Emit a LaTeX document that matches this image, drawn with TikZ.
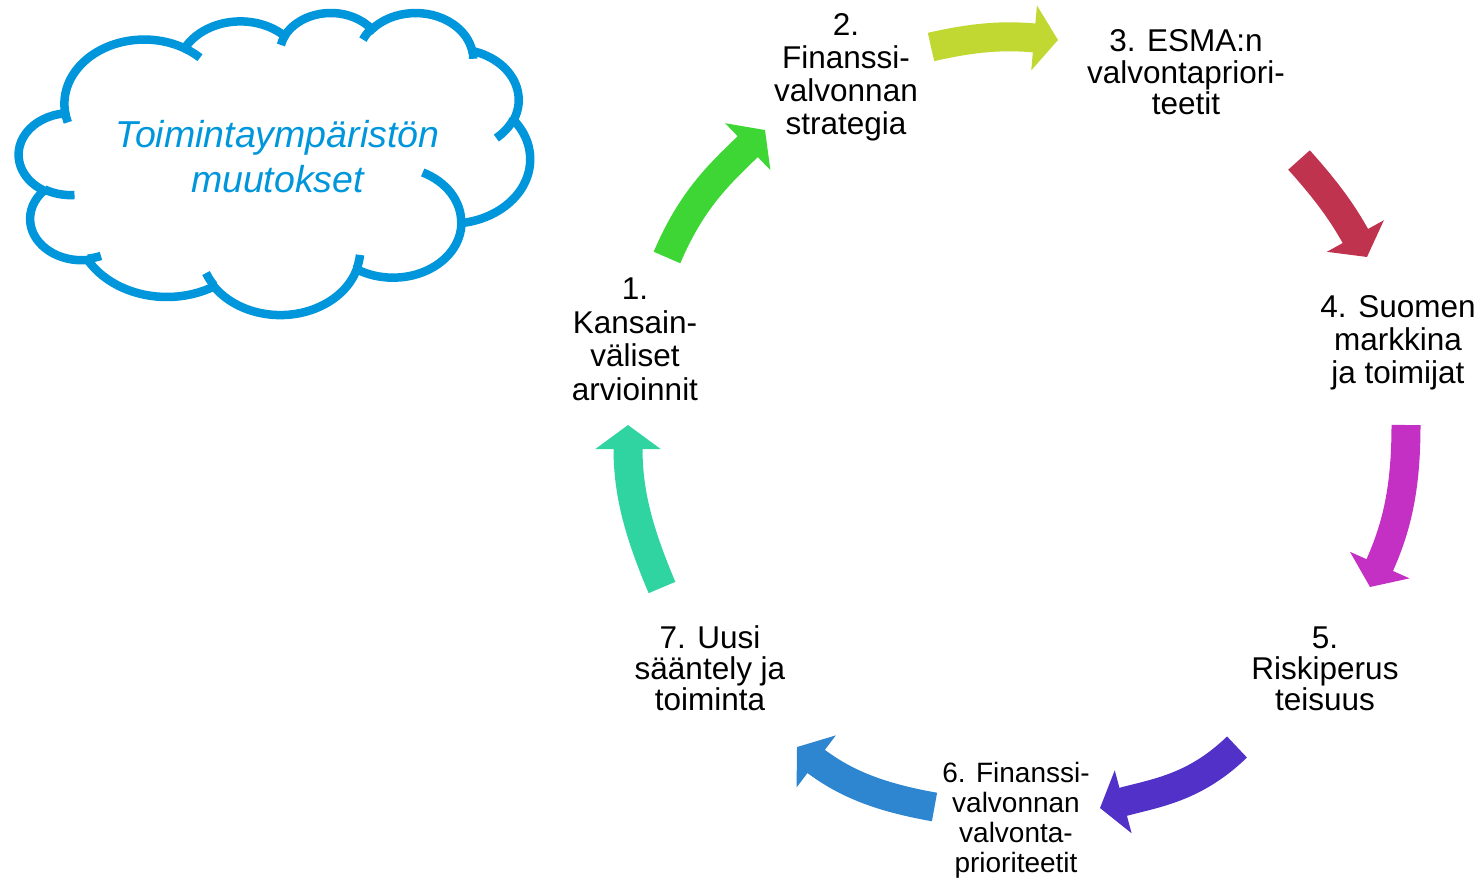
\documentclass[tikz,border=0pt]{standalone}
\usepackage{fontspec}
\setmainfont{Liberation Sans}
\usetikzlibrary{arrows.meta}
\definecolor{colA}{RGB}{61,214,52}
\definecolor{colB}{RGB}{194,216,50}
\definecolor{colC}{RGB}{192,51,79}
\definecolor{colD}{RGB}{196,47,196}
\definecolor{colE}{RGB}{82,49,200}
\definecolor{colF}{RGB}{46,134,209}
\definecolor{colG}{RGB}{48,212,160}
\definecolor{cloudblue}{RGB}{0,150,219}
% arc in DrawingML manner: wR, hR, start angle (visual), sweep
\newcommand\cloudarc[4]{ arc[x radius=#1, y radius=#2,
  start angle={atan2(sin(#3)*#1,cos(#3)*#2)},
  delta angle={mod(atan2(sin(#3+#4)*#1,cos(#3+#4)*#2)-atan2(sin(#3)*#1,cos(#3)*#2)+720,360)}]}
\begin{document}
\begin{tikzpicture}[x=1pt,y=1pt,
  lbl/.style={align=center, anchor=base, inner sep=0pt, font=\fontsize{31.5}{33.3}\selectfont},
  cyc/.style={line width=29pt, -{Triangle[length=24pt,width=64pt]}},
  cloudline/.style={draw=cloudblue, line width=8.5pt}]
\useasboundingbox (0,0) rectangle (1481,-880);
% cloud
\begin{scope}[shift={(19,-12)}, x=0.118287pt, y=-0.0699074pt]
\path[cloudline, fill=white] (390,1437.0)
  \cloudarc{675.3}{919.0}{-190.48748}{123.78053}
  \cloudarc{533.3}{726.7}{-144.10238}{89.94523}
  \cloudarc{436.5}{594.5}{-145.80792}{99.72302}
  \cloudarc{485.7}{659.5}{-130.98607}{117.24173}
  \cloudarc{533.3}{727.3}{-78.70888}{109.02692}
  \cloudarc{677.5}{922.0}{-46.26725}{130.26900}
  \cloudarc{578.5}{786.7}{0.62502}{114.03333}
  \cloudarc{675.2}{921.5}{22.45160}{115.17255}
  \cloudarc{772.0}{1054.3}{66.24263}{75.71102}
  \cloudarc{436.0}{591.8}{-274.94208}{146.73557}
  \cloudarc{434.5}{594.5}{-246.82850}{152.51885}
  -- cycle;
\path[cloudline]
  (469.3,2617.7) \cloudarc{434.5}{594.5}{86.74200}{26.42950}
  (692.8,3489.9) \cloudarc{436.0}{591.8}{73.61047}{11.44747}
  (1647.8,3909.0) \cloudarc{675.2}{921.5}{137.62415}{14.08110}
  (2882.7,3475.1) \cloudarc{675.2}{921.5}{6.45327}{15.99835}
  (3412.9,2295.4) \cloudarc{578.5}{786.7}{-70.29235}{70.91737}
  (4179.8,1535.4) \cloudarc{533.3}{727.3}{30.31803}{27.75150}
  (3832.4,542.6) \cloudarc{485.7}{659.5}{-13.74433}{14.85487}
  (2907.8,395.2) \cloudarc{485.7}{659.5}{-149.18145}{18.19537}
  (2214.1,472.0) \cloudarc{436.5}{594.5}{-163.49427}{17.68635}
  (1400.0,519.2) \cloudarc{675.3}{919.0}{-66.70695}{12.31935}
  (412.7,1578.9) \cloudarc{675.3}{919.0}{157.65435}{11.85817};
\end{scope}
\node[anchor=base, align=center, inner sep=0pt, text=cloudblue,
  font=\itshape\fontsize{37.5}{45}\selectfont] (cl) at (277.5,-193)
  {Toimintaympäristön\\muutokset};
% labels (anchor base = baseline of last line)
\node[lbl, font=\fontsize{31.5}{33.5}\selectfont] (n1) at (635,-400) {1.\\Kansain-\\väliset\\arvioinnit};
\node[lbl] (n2) at (846,-135) {2.\\Finanssi-\\valvonnan\\strategia};
\node[lbl, font=\fontsize{31.5}{31.5}\selectfont] (n3) at (1186,-115) {3. ESMA:n\\valvontapriori-\\teetit};
\node[lbl, font=\fontsize{31.5}{33}\selectfont] (n4) at (1398,-383) {4. Suomen\\markkina\\ja toimijat};
\node[lbl, font=\fontsize{31.5}{31}\selectfont] (n5) at (1325,-710) {5.\\Riskiperus\\teisuus};
\node[lbl, font=\fontsize{28}{30}\selectfont] (n6) at (1016,-872) {6. Finanssi-\\valvonnan\\valvonta-\\prioriteetit};
\node[lbl, font=\fontsize{31.5}{31}\selectfont] (n7) at (710,-710) {7. Uusi\\sääntely ja\\toiminta};
% arrow end points
\coordinate (a1s) at (667,-257.5); \coordinate (a1e) at (765,-130);
\coordinate (a2s) at (931,-47);    \coordinate (a2e) at (1058,-40);
\coordinate (a3s) at (1299,-160);  \coordinate (a3e) at (1367,-257);
\coordinate (a4s) at (1406,-425);  \coordinate (a4e) at (1370,-587);
\coordinate (a5s) at (1237,-747);  \coordinate (a5e) at (1100,-808);
\coordinate (a6s) at (934.5,-807); \coordinate (a6e) at (797,-747);
\coordinate (a7s) at (662,-587.5); \coordinate (a7e) at (628,-425);
\draw[cyc, colA] (a1s) to[out=67, in=224] (a1e);
\draw[cyc, colB] (a2s) to[out=13, in=175] (a2e);
\draw[cyc, colC] (a3s) to[out=-48, in=119] (a3e);
\draw[cyc, colD] (a4s) to[out=-90, in=66] (a4e);
\draw[cyc, colE] (a5s) to[out=-136, in=15] (a5e);
\draw[cyc, colF] (a6s) to[out=170, in=-37] (a6e);
\draw[cyc, colG] (a7s) to[out=113, in=-90] (a7e);
\end{tikzpicture}
\end{document}
